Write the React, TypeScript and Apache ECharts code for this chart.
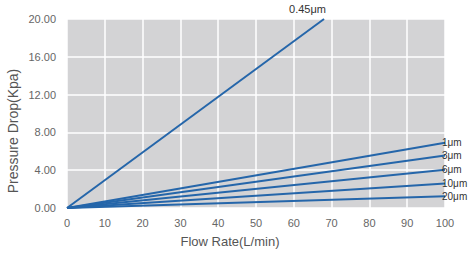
import React, { useEffect, useRef } from "react";
import * as echarts from "echarts";

const seriesNames = ["0.45μm", "1μm", "3μm", "6μm", "10μm", "20μm"];
const flowPoints = [
  [0, 68],
  [0, 100],
  [0, 100],
  [0, 100],
  [0, 100],
  [0, 100],
];
const pressurePoints = [
  [0, 20],
  [0, 6.9],
  [0, 5.55],
  [0, 4.05],
  [0, 2.6],
  [0, 1.25],
];
const yTicks = [0, 4, 8, 12, 16, 20];
const xTitle = "Flow Rate(L/min)";
const yTitle = "Pressure Drop(Kpa)";

const FONT = "Liberation Sans, Arial, sans-serif";
const LINE = "#2566aa";

export default function App() {
  const ref = useRef<HTMLDivElement>(null);
  useEffect(() => {
    if (!ref.current) return;
    const chart = echarts.init(ref.current, undefined, { renderer: "svg" });
    const series = seriesNames.map((name, i) => {
      const first = i === 0;
      return {
        name,
        type: "line",
        data: flowPoints[i].map((x, j) => [x, pressurePoints[i][j]]),
        showSymbol: false,
        symbol: "none",
        lineStyle: { color: LINE, width: 2 },
        itemStyle: { color: LINE },
        clip: false,
        endLabel: {
          show: true,
          formatter: name,
          color: "#333",
          fontFamily: FONT,
          fontSize: first ? 11 : 10,
          distance: 0,
          offset: first ? [-35, -10] : [-3, 0],
        },
      };
    });
    chart.setOption({
      animation: false,
      textStyle: { fontFamily: FONT },
      grid: {
        left: 67,
        right: 23,
        top: 19,
        bottom: 43,
        show: true,
        backgroundColor: "#d3d3d5",
        borderWidth: 0,
      },
      graphic: [
        {
          type: "text",
          x: 13,
          y: 131,
          rotation: Math.PI / 2,
          style: {
            text: yTitle,
            fontSize: 14,
            fontFamily: FONT,
            fill: "#555",
            align: "center",
            verticalAlign: "middle",
          },
        },
      ],
      xAxis: {
        type: "value",
        min: 0,
        max: 100,
        interval: 10,
        name: xTitle,
        nameLocation: "middle",
        nameGap: 27,
        nameTextStyle: {
          fontSize: 13,
          color: "#555",
          fontFamily: FONT,
          padding: [0, 52, 0, 0],
        },
        axisLine: { show: false },
        axisTick: { show: false },
        axisLabel: { color: "#666", fontSize: 11, margin: 9, fontFamily: FONT },
        splitLine: { show: true, lineStyle: { color: "#ffffff", width: 1.5 } },
      },
      yAxis: {
        type: "value",
        min: 0,
        max: 20,
        interval: 4,
        axisLine: { show: false },
        axisTick: { show: false },
        axisLabel: {
          color: "#666",
          fontSize: 11,
          margin: 11,
          fontFamily: FONT,
          formatter: (v: number) => (yTicks.includes(v) ? v.toFixed(2) : ""),
        },
        splitLine: { show: true, lineStyle: { color: "#ffffff", width: 1.5 } },
      },
      series,
    });
    return () => chart.dispose();
  }, []);
  return (
    <div
      ref={ref}
      style={{ position: "absolute", left: 0, top: 0, width: 468, height: 253 }}
    />
  );
}
